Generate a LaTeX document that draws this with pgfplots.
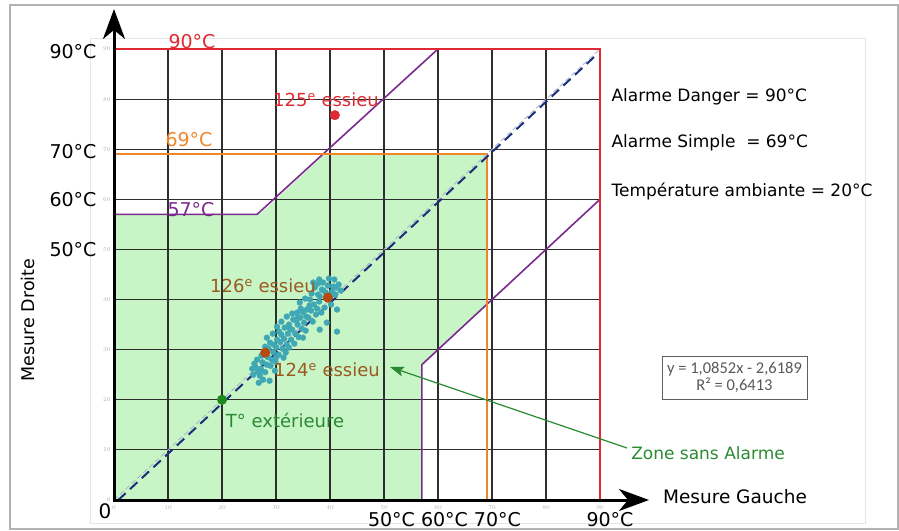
\documentclass[border=0pt]{standalone}
\usepackage{pgfplots}
\pgfplotsset{compat=1.18}
\usepackage{fontspec}
\setmainfont{DejaVu Sans}
\newfontfamily\calib{Carlito}
\usetikzlibrary{arrows.meta}
\definecolor{cred}{HTML}{E02A33}
\definecolor{corange}{HTML}{F0862A}
\definecolor{cpurple}{HTML}{7A2A8C}
\definecolor{cnavy}{HTML}{1C2E7A}
\definecolor{clight}{HTML}{A8B8CC}
\definecolor{cgreenfill}{HTML}{C8F5C6}
\definecolor{cgreen}{HTML}{2A8A32}
\definecolor{cdotgreen}{HTML}{1E8A1E}
\definecolor{cbrown}{HTML}{B84A10}
\definecolor{cbrowntxt}{HTML}{9A5A20}
\definecolor{cteal}{HTML}{40A8B4}
\definecolor{cgrid}{HTML}{2E2E2E}
\newcommand{\fs}[1]{\fontsize{#1}{#1}\selectfont}
\begin{document}
\begin{tikzpicture}[x=1pt,y=1pt]
\draw[gray!60, line width=1.2pt] (10,1) rectangle (898,525);
\draw[gray!20, line width=0.8pt] (90,7) rectangle (865,492);
\begin{axis}[
  set layers,
  scale only axis, width=486pt, height=451pt,
  at={(114pt,30pt)}, anchor=origin,
  xmin=0, xmax=90, ymin=0, ymax=90,
  clip=false,
  axis line style={draw=none},
  xtick={0,10,...,90}, ytick={0,10,...,90},
  major tick length=0pt,
  grid=major,
  major grid style={cgrid, line width=1.15pt},
  tick label style={font=\fs{6}, text=gray!60},
  xticklabel style={yshift=-2pt},
]
\addplot[fill=cgreenfill, draw=none, on layer=axis background] coordinates {(0,0) (0,57) (27,57) (39,69) (69,69) (69,39) (57,27) (57,0) (0,0)};
% thresholds
\addplot[cpurple, line width=1.6pt] coordinates {(0,57) (26.5,57) (60,90) (90,90) (90,60) (57,27) (57,0)};
\addplot[corange, line width=2.2pt] coordinates {(0,69) (69,69) (69,0)};
\addplot[cred, line width=2.4pt] coordinates {(0,90) (90,90) (90,0)};
% bisector and regression
\addplot[clight, line width=0.9pt, dash pattern=on 5pt off 3pt] coordinates {(0,0) (90,90)};
\addplot[only marks, mark=*, mark size=2.9pt, cteal] coordinates {
(25.8,25.0) (26.2,26.5) (26.5,28.0) (27.0,24.8) (27.2,26.2) (27.5,27.5) (27.8,29.0) (28.0,25.5)
(28.3,27.0) (28.5,28.5) (28.6,30.2) (28.3,32.4) (29.0,26.8) (29.2,28.0) (29.5,29.5) (29.6,31.0)
(29.9,27.6) (30.0,30.5) (30.2,32.0) (30.2,34.6) (30.5,29.0) (30.8,31.5) (31.0,33.0) (31.2,30.2)
(31.5,32.2) (31.6,34.4) (31.8,29.4) (32.0,31.0) (32.0,36.6) (32.2,33.2) (32.4,35.0) (32.8,32.0)
(33.0,34.0) (33.2,36.0) (33.4,31.2) (33.6,33.2) (33.9,37.4) (34.0,35.0) (34.2,32.5) (34.4,39.4)
(34.5,36.4) (34.8,34.2) (35.0,37.5) (35.2,35.4) (35.5,33.8) (35.7,38.0) (36.0,36.4) (36.3,40.0)
(36.5,37.8) (36.8,35.6) (36.9,43.4) (37.0,39.0) (37.4,37.0) (37.8,41.0) (38.0,39.6) (38.1,34.0)
(38.1,40.6) (38.5,42.0) (38.7,43.4) (39.0,38.4) (39.2,41.4) (39.4,35.4) (39.6,42.8) (40.0,40.6)
(40.2,39.0) (40.6,42.6) (41.0,41.0) (41.3,38.0) (41.3,33.6) (41.6,43.0) (42.0,41.8) (40.8,44.0)
(39.8,44.2) (38.0,44.0) (26.8,23.4) (27.6,24.0) (28.8,23.8)
(26.0,27.2) (26.6,25.6) (27.3,28.8) (28.0,30.6) (28.9,31.4) (29.4,33.2) (29.8,25.8) (30.6,33.6)
(31.0,35.6) (31.4,28.4) (32.6,34.2) (33.0,37.2) (33.8,35.8) (34.6,38.2) (35.0,32.4) (35.6,36.6)
(36.2,38.8) (36.6,41.2) (37.2,42.4) (37.6,38.2) (38.4,37.4) (38.8,41.8) (39.4,40.2) (40.4,41.6)
(41.2,42.4) (37.8,43.2) (35.4,40.2) (34.0,36.4) (32.4,30.4) (30.0,28.4) (27.0,25.6) (25.6,26.2)};
\addplot[cnavy, line width=2pt, dash pattern=on 10pt off 6pt] coordinates {(0.8,0) (89.5,89)};
% highlighted points
\addplot[only marks, mark=*, mark size=4.8pt, cred] coordinates {(40.9,76.8)};
\addplot[only marks, mark=*, mark size=4.8pt, cbrown] coordinates {(28,29.4) (39.6,40.4)};
\addplot[only marks, mark=*, mark size=4.8pt, cdotgreen] coordinates {(20,20)};
\end{axis}
% axes arrows
\draw[black, line width=3pt, -{Stealth[length=30pt,width=22pt,inset=9pt]}] (114,28.5) -- (114,521);
\draw[black, line width=3pt, -{Stealth[length=30pt,width=22pt,inset=9pt]}] (112.5,30) -- (649,30);
% threshold labels
\node[text=cred, font=\fs{19}] at (192,488) {90°C};
\node[text=corange, font=\fs{19}] at (189,390.5) {69°C};
\node[text=cpurple, font=\fs{19}] at (191,320.5) {57°C};
% point labels
\node[text=cred, font=\fs{18}] at (326,430) {125\textsuperscript{e} essieu};
\node[text=cbrowntxt, font=\fs{18}] at (263,244) {126\textsuperscript{e} essieu};
\node[text=cbrowntxt, font=\fs{18}] at (327,160) {124\textsuperscript{e} essieu};
\node[text=cgreen, font=\fs{18}] at (285,110) {T° extérieure};
\node[text=cgreen, font=\fs{17}] at (708,77) {Zone sans Alarme};
\draw[cgreen, line width=1.2pt, -{Stealth[length=14pt,width=10pt,inset=3pt]}] (627,82) -- (390,163);
% axis titles
\node[font=\fs{18.5}] at (735,33) {Mesure Gauche};
\node[font=\fs{17.5}, rotate=90] at (28,210) {Mesure Droite};
% right texts
\node[anchor=west, font=\fs{17}] at (608,433) {Alarme Danger = 90°C};
\node[anchor=west, font=\fs{17}] at (608,387) {Alarme Simple \ = 69°C};
\node[anchor=west, font=\fs{17}] at (608,339) {Température ambiante = 20°C};
% y big labels
\node[anchor=east, font=\fs{19}] at (100,478) {90°C};
\node[anchor=east, font=\fs{19}] at (100,378) {70°C};
\node[anchor=east, font=\fs{19}] at (100,330) {60°C};
\node[anchor=east, font=\fs{19}] at (100,280) {50°C};
% x big labels
\node[font=\fs{19}] at (444.5,10) {50°C 60°C 70°C};
\node[font=\fs{19}] at (610,10) {90°C};
\node[font=\fs{20}] at (105,18.5) {0};
% regression box
\draw[gray!75!black, line width=0.9pt] (662,131) rectangle (807,174);
\node[text=gray!70!black, font=\calib\fs{16.5}, align=center, inner sep=0pt] at (734.5,152.5) {y = 1,0852x - 2,6189\\[1pt] R² = 0,6413};
\pgfresetboundingbox
\path[use as bounding box] (0,0) rectangle (899,530);
\end{tikzpicture}
\end{document}
